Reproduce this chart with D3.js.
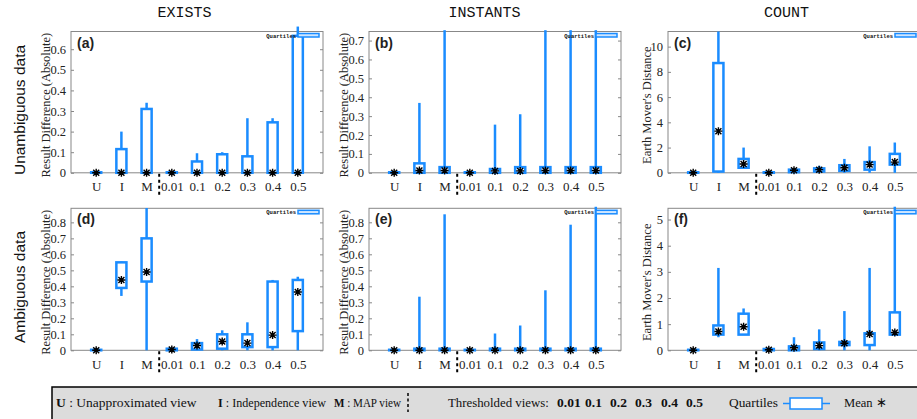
<!DOCTYPE html>
<html>
<head>
<meta charset="utf-8">
<script src="https://cdn.jsdelivr.net/npm/d3@7"></script>
<style>
  body { margin: 0; background: #fff; }
</style>
</head>
<body>
<div id="chart"></div>
<script>
const width = 917;
const height = 419;

// x categories: U, I, M, then the thresholded views
const categories = ["U", "I", "M", "0.01", "0.1", "0.2", "0.3", "0.4", "0.5"];

// (a) EXISTS, unambiguous
const aQ1 = [0, 0, 0, 0, 0, 0, 0, 0, 0];
const aQ3 = [0, 0.115, 0.31, 0, 0.055, 0.09, 0.08, 0.245, 0.665];
const aMin = [0, 0, 0, 0, 0, 0, 0, 0, 0];
const aMax = [0, 0.2, 0.34, 0, 0.095, 0.1, 0.265, 0.265, 0.71];
const aMean = [0, 0, 0, 0, 0, 0, 0, 0, 0];
const aTicks = [0, 0.1, 0.2, 0.3, 0.4, 0.5, 0.6];

// (b) INSTANTS, unambiguous
const bQ1 = [0, 0, 0, 0, 0, 0, 0, 0, 0];
const bQ3 = [0, 0.05, 0.03, 0, 0.02, 0.03, 0.03, 0.03, 0.03];
const bMin = [0, 0, 0, 0, 0, 0, 0, 0, 0];
const bMax = [0, 0.37, 0.755, 0, 0.255, 0.31, 0.755, 0.755, 0.755];
const bMean = [0, 0.012, 0.012, 0, 0.01, 0.01, 0.012, 0.012, 0.012];
const bTicks = [0, 0.1, 0.2, 0.3, 0.4, 0.5, 0.6, 0.7];

// (c) COUNT, unambiguous
const cQ1 = [0, 0.1, 0.4, 0, 0.05, 0.1, 0.15, 0.25, 0.65];
const cQ3 = [0, 8.7, 1.1, 0, 0.25, 0.35, 0.6, 0.85, 1.5];
const cMin = [0, 0, 0.3, 0, 0, 0, 0, 0, 0];
const cMax = [0, 11.2, 2.0, 0, 0.3, 0.55, 1.1, 2.1, 2.4];
const cMean = [0, 3.3, 0.7, 0, 0.2, 0.25, 0.4, 0.65, 0.85];
const cTicks = [0, 2, 4, 6, 8, 10];

// (d) EXISTS, ambiguous
const dQ1 = [0, 0.39, 0.43, 0, 0.005, 0.01, 0.02, 0.02, 0.12];
const dQ3 = [0, 0.55, 0.70, 0.01, 0.045, 0.10, 0.10, 0.43, 0.44];
const dMin = [0, 0.34, 0, 0, 0, 0, 0, 0, 0];
const dMax = [0, 0.555, 0.89, 0.01, 0.07, 0.125, 0.175, 0.44, 0.46];
const dMean = [0, 0.44, 0.49, 0.005, 0.03, 0.055, 0.045, 0.095, 0.365];
const dTicks = [0, 0.1, 0.2, 0.3, 0.4, 0.5, 0.6, 0.7, 0.8];

// (e) INSTANTS, ambiguous
const eQ1 = [0, 0, 0, 0, 0, 0, 0, 0, 0];
const eQ3 = [0, 0.01, 0.01, 0, 0.01, 0.01, 0.01, 0.01, 0.01];
const eMin = [0, 0, 0, 0, 0, 0, 0, 0, 0];
const eMax = [0, 0.335, 0.85, 0, 0.105, 0.155, 0.375, 0.785, 0.897];
const eMean = [0, 0, 0, 0, 0, 0, 0, 0, 0];
const eTicks = [0, 0.1, 0.2, 0.3, 0.4, 0.5, 0.6, 0.7, 0.8];

// (f) COUNT, ambiguous
const fQ1 = [0, 0.6, 0.6, 0, 0, 0.05, 0.2, 0.2, 0.6];
const fQ3 = [0, 0.95, 1.4, 0.05, 0.15, 0.3, 0.32, 0.65, 1.45];
const fMin = [0, 0.5, 0.6, 0, 0, 0, 0, 0, 0.6];
const fMax = [0, 3.15, 1.6, 0.05, 0.5, 0.8, 1.5, 3.15, 5.49];
const fMean = [0, 0.72, 0.9, 0.02, 0.1, 0.18, 0.27, 0.62, 0.68];
const fTicks = [0, 1, 2, 3, 4, 5];

const colTitles = ["EXISTS", "INSTANTS", "COUNT"];
const rowTitles = ["Unambiguous data", "Ambiguous data"];

const blue = "#1a8cff";
const serif = "'Liberation Serif', 'Times New Roman', serif";
const sans = "'Liberation Sans', Arial, sans-serif";
const mono = "'Liberation Mono', 'Courier New', monospace";

const colLeft = [71, 369, 668];
const rowTop = [31.5, 208.3];
const rowBottom = [172.8, 350.3];
const panelW = 252;

const panels = [
  {label: "(a)", col: 0, row: 0, max: 0.686, ticks: aTicks, q1: aQ1, q3: aQ3, lo: aMin, hi: aMax, mean: aMean, yLabel: "Result Difference (Absolute)"},
  {label: "(b)", col: 1, row: 0, max: 0.748, ticks: bTicks, q1: bQ1, q3: bQ3, lo: bMin, hi: bMax, mean: bMean, yLabel: "Result Difference (Absolute)"},
  {label: "(c)", col: 2, row: 0, max: 11.2, ticks: cTicks, q1: cQ1, q3: cQ3, lo: cMin, hi: cMax, mean: cMean, yLabel: "Earth Mover's Distance"},
  {label: "(d)", col: 0, row: 1, max: 0.888, ticks: dTicks, q1: dQ1, q3: dQ3, lo: dMin, hi: dMax, mean: dMean, yLabel: "Result Difference (Absolute)"},
  {label: "(e)", col: 1, row: 1, max: 0.8875, ticks: eTicks, q1: eQ1, q3: eQ3, lo: eMin, hi: eMax, mean: eMean, yLabel: "Result Difference (Absolute)"},
  {label: "(f)", col: 2, row: 1, max: 5.43, ticks: fTicks, q1: fQ1, q3: fQ3, lo: fMin, hi: fMax, mean: fMean, yLabel: "Earth Mover's Distance"}
];

const svg = d3.select("#chart")
  .append("svg")
  .attr("width", width)
  .attr("height", height);

// star marker for the mean
function starPath(cx, cy) {
  const r = 4, d = 3;
  return `M${cx - r},${cy}L${cx + r},${cy}M${cx},${cy - r}L${cx},${cy + r}` +
         `M${cx - d},${cy - d}L${cx + d},${cy + d}M${cx - d},${cy + d}L${cx + d},${cy - d}`;
}

function drawPanel(p) {
  const left = colLeft[p.col];
  const top = rowTop[p.row];
  const bottom = rowBottom[p.row];
  const right = left + panelW;

  const xScale = d3.scaleLinear().domain([0, 10]).range([left, right]);
  const yScale = d3.scaleLinear().domain([0, p.max]).range([bottom, top]);
  const boxW = xScale(0.4) - xScale(0);

  const g = svg.append("g");

  // y axis (inward ticks) and mirror ticks on the right
  const yAxis = d3.axisLeft(yScale)
    .tickValues(p.ticks)
    .tickSize(-3)
    .tickPadding(5)
    .tickFormat(d => d3.format("~g")(d));
  const yAxisG = g.append("g")
    .attr("transform", `translate(${left},0)`)
    .call(yAxis);
  yAxisG.select(".domain").remove();
  yAxisG.selectAll("line").attr("stroke", "#888");
  yAxisG.selectAll("text")
    .attr("font-family", serif)
    .attr("font-size", 12.5)
    .attr("fill", "#222");

  const mirrorG = g.append("g")
    .attr("transform", `translate(${right},0)`)
    .call(d3.axisRight(yScale).tickValues(p.ticks).tickSize(-3).tickFormat(""));
  mirrorG.select(".domain").remove();
  mirrorG.selectAll("line").attr("stroke", "#888");

  // x axis category labels
  const xAxisG = g.append("g")
    .attr("transform", `translate(0,${bottom})`)
    .call(d3.axisBottom(xScale)
      .tickValues(d3.range(1, categories.length + 1))
      .tickSize(0)
      .tickPadding(9)
      .tickFormat(i => categories[i - 1]));
  xAxisG.select(".domain").remove();
  xAxisG.selectAll("text")
    .attr("font-family", serif)
    .attr("font-size", 13)
    .attr("fill", "#222");

  // frame
  g.append("rect")
    .attr("x", left)
    .attr("y", top)
    .attr("width", panelW)
    .attr("height", bottom - top)
    .attr("fill", "none")
    .attr("stroke", "#888")
    .attr("stroke-width", 1);

  // dashed separator between M and thresholded views
  g.append("line")
    .attr("x1", xScale(3.5)).attr("x2", xScale(3.5))
    .attr("y1", bottom + 1).attr("y2", bottom + 25)
    .attr("stroke", "#000")
    .attr("stroke-width", 2)
    .attr("stroke-dasharray", "3,3");

  const idx = d3.range(categories.length);

  // whiskers
  g.selectAll("line.whisker")
    .data(idx)
    .join("line")
    .attr("class", "whisker")
    .attr("x1", i => xScale(i + 1))
    .attr("x2", i => xScale(i + 1))
    .attr("y1", i => yScale(p.lo[i]))
    .attr("y2", i => yScale(p.hi[i]))
    .attr("stroke", blue)
    .attr("stroke-width", 2.5);

  // quartile boxes (a flat box still shows as a thick bar)
  g.selectAll("rect.box")
    .data(idx)
    .join("rect")
    .attr("class", "box")
    .attr("x", i => xScale(i + 1) - boxW / 2)
    .attr("y", i => Math.min(yScale(p.q3[i]), yScale(p.q1[i]) - 0.5))
    .attr("width", boxW)
    .attr("height", i => Math.max(yScale(p.q1[i]) - yScale(p.q3[i]), 0.5))
    .attr("fill", "#fff")
    .attr("stroke", blue)
    .attr("stroke-width", 2.5);

  // means
  g.selectAll("path.mean")
    .data(idx)
    .join("path")
    .attr("class", "mean")
    .attr("d", i => starPath(xScale(i + 1), yScale(p.mean[i])))
    .attr("stroke", "#000")
    .attr("stroke-width", 1.4)
    .attr("fill", "none");

  // panel label
  g.append("text")
    .attr("x", left + 6)
    .attr("y", top + 16)
    .attr("font-family", sans)
    .attr("font-weight", "bold")
    .attr("font-size", 14)
    .attr("fill", "#222")
    .text(p.label);

  // tiny in-plot legend
  g.append("text")
    .attr("x", right - 27)
    .attr("y", top + 6)
    .attr("text-anchor", "end")
    .attr("font-family", mono)
    .attr("font-weight", "bold")
    .attr("font-size", 5.5)
    .attr("fill", "#111")
    .text("Quartiles");
  g.append("rect")
    .attr("x", right - 25)
    .attr("y", top + 2)
    .attr("width", 21)
    .attr("height", 3.5)
    .attr("fill", "#cfe6ff")
    .attr("stroke", blue)
    .attr("stroke-width", 1.5);

  // y axis title
  const yl = p.col === 2 ? left - 17 : left - 21;
  g.append("text")
    .attr("transform", `translate(${yl},${(top + bottom) / 2 + 3}) rotate(-90)`)
    .attr("text-anchor", "middle")
    .attr("font-family", serif)
    .attr("font-size", 12.5)
    .attr("fill", "#222")
    .text(p.yLabel);
}

panels.forEach(drawPanel);

// column titles
const titleX = [184.5, 484.5, 786.5];
svg.selectAll("text.coltitle")
  .data(colTitles)
  .join("text")
  .attr("class", "coltitle")
  .attr("x", (d, i) => titleX[i])
  .attr("y", 17)
  .attr("text-anchor", "middle")
  .attr("font-family", mono)
  .attr("font-size", 15)
  .attr("fill", "#111")
  .text(d => d);

// row titles
const rowCenter = [110, 287];
svg.selectAll("text.rowtitle")
  .data(rowTitles)
  .join("text")
  .attr("class", "rowtitle")
  .attr("transform", (d, i) => `translate(25,${rowCenter[i]}) rotate(-90)`)
  .attr("text-anchor", "middle")
  .attr("font-family", sans)
  .attr("font-size", 15.5)
  .attr("fill", "#111")
  .text(d => d);

// bottom legend box
const legend = svg.append("g");
legend.append("rect")
  .attr("x", 52)
  .attr("y", 387)
  .attr("width", 880)
  .attr("height", 50)
  .attr("fill", "#dcdcdc")
  .attr("stroke", "#000")
  .attr("stroke-width", 1.5);

const legendY = 407;
// each group: bold key + plain description, squeezed to its span
const legendGroups = [
  {x: 56, len: 143, key: "U", desc: " : Unapproximated view"},
  {x: 218, len: 108, key: "I", desc: " : Independence view"},
  {x: 334, len: 67, key: "M", desc: " : MAP view"},
  {x: 448, len: 101, key: "", desc: "Thresholded views:"},
  {x: 729, len: 49, key: "", desc: "Quartiles"},
  {x: 844, len: 43, key: "", desc: "Mean \u2217"}
];
const thresholdX = [557, 585, 610, 635, 661, 686];

legendGroups.forEach(d => {
  const t = legend.append("text")
    .attr("font-family", serif)
    .attr("font-size", 13.5)
    .attr("fill", "#111")
    .attr("xml:space", "preserve");
  if (d.key) t.append("tspan").attr("font-weight", "bold").text(d.key);
  t.append("tspan").text(d.desc);
  const natural = t.node().getComputedTextLength();
  const sx = Math.min(1, d.len / natural);
  t.attr("transform", `translate(${d.x},${legendY}) scale(${sx},1)`);
});

legend.selectAll("text.thr")
  .data(categories.slice(3))
  .join("text")
  .attr("class", "thr")
  .attr("x", (d, i) => thresholdX[i])
  .attr("y", legendY)
  .attr("font-family", serif)
  .attr("font-size", 13.5)
  .attr("font-weight", "bold")
  .attr("fill", "#111")
  .text(d => d);

legend.append("line")
  .attr("x1", 408).attr("x2", 408)
  .attr("y1", 393).attr("y2", 412)
  .attr("stroke", "#000")
  .attr("stroke-width", 1.5)
  .attr("stroke-dasharray", "3,2.5");

legend.append("line")
  .attr("x1", 783).attr("x2", 830)
  .attr("y1", 403.5).attr("y2", 403.5)
  .attr("stroke", blue)
  .attr("stroke-width", 1.5);
legend.append("rect")
  .attr("x", 790)
  .attr("y", 398)
  .attr("width", 32)
  .attr("height", 11)
  .attr("fill", "#fff")
  .attr("stroke", blue)
  .attr("stroke-width", 1.5);
</script>
</body>
</html>
